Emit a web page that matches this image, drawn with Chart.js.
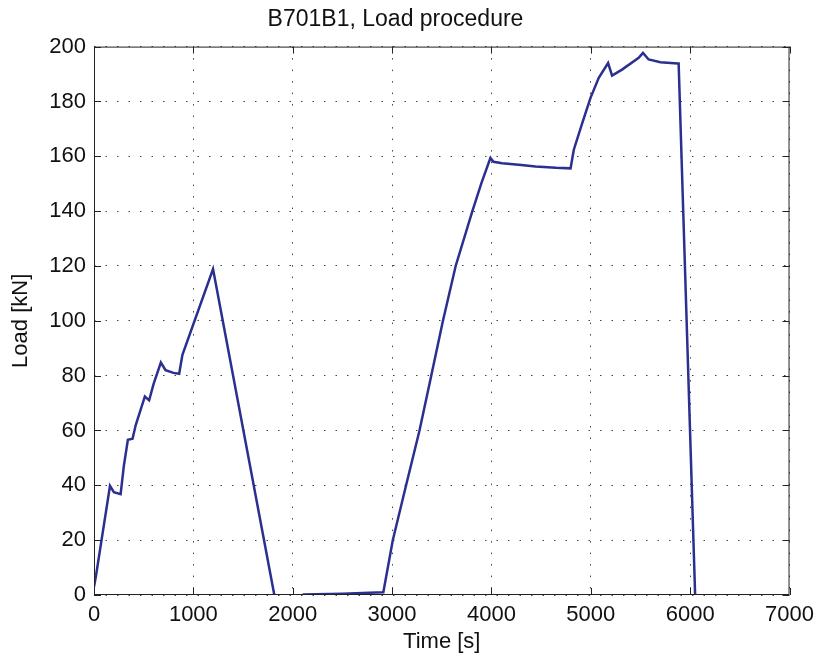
<!DOCTYPE html>
<html>
<head>
<meta charset="utf-8">
<script src="https://cdn.jsdelivr.net/npm/chart.js@4.4.1/dist/chart.umd.min.js"></script>
<style>
  html, body { margin: 0; padding: 0; background: #fff; }
  #wrap { width: 821px; height: 662px; }
</style>
</head>
<body>
<div id="wrap"><canvas id="loadChart" width="821" height="662"></canvas></div>
<script>
// ---- B701B1 load procedure ----
const TIME_S = [0, 20, 161, 200, 268, 300, 341, 388, 420, 512, 555, 600, 673, 720, 800, 857, 890, 1198, 1815,
  null,
  2100, 2500, 2771, 2912, 3007, 3141, 3276, 3394, 3512, 3640, 3808, 3899, 3990, 4020, 4109, 4300, 4443, 4650, 4796,
  4829, 4913, 4997, 5080, 5174, 5214, 5314, 5482, 5525, 5582, 5700, 5876, 5884, 6050];
const LOAD_KN = [3, 7, 39.8, 37.5, 36.8, 47, 56.6, 57, 62, 72.4, 71, 77, 84.8, 82, 81, 80.7, 87.6, 118.9, 0,
  null,
  0.2, 0.5, 0.8, 1, 20, 40, 60, 80, 100, 120, 140, 150.2, 159.4, 158, 157.5, 156.8, 156.3, 155.8, 155.6,
  162.4, 172, 181.3, 188.6, 194, 189.4, 191.6, 195.9, 197.7, 195.3, 194.3, 193.8, 193.8, 0];

const X_TICKS = [0, 1000, 2000, 3000, 4000, 5000, 6000, 7000];
const Y_TICKS = [0, 20, 40, 60, 80, 100, 120, 140, 160, 180, 200];

const LINE_BLUE = '#2b2f8f';
const FONT = 'Liberation Sans, Arial, Helvetica, sans-serif';

const points = TIME_S.map((t, i) => ({ x: t === null ? 1950 : t, y: LOAD_KN[i] }));

// MATLAB-style box with inward tick marks
const framePlugin = {
    id: 'frame',
    afterDatasetsDraw(chart) {
        const { ctx, chartArea: a, scales } = chart;
        ctx.save();
        ctx.strokeStyle = '#222';
        ctx.lineWidth = 1;
        ctx.strokeRect(a.left + 0.5, a.top + 0.5, a.right - a.left - 1, a.bottom - a.top - 1);
        const len = 7;
        ctx.beginPath();
        X_TICKS.forEach(v => {
            const px = Math.round(scales.x.getPixelForValue(v)) + 0.5;
            ctx.moveTo(px, a.bottom); ctx.lineTo(px, a.bottom - len);
            ctx.moveTo(px, a.top); ctx.lineTo(px, a.top + len);
        });
        Y_TICKS.forEach(v => {
            const py = Math.round(scales.y.getPixelForValue(v)) + 0.5;
            ctx.moveTo(a.left, py); ctx.lineTo(a.left + len, py);
            ctx.moveTo(a.right, py); ctx.lineTo(a.right - len, py);
        });
        ctx.stroke();
        ctx.restore();
    }
};

new Chart(document.getElementById('loadChart'), {
    type: 'scatter',
    data: {
        datasets: [{
            label: 'Load',
            data: points,
            showLine: true,
            spanGaps: false,
            borderColor: LINE_BLUE,
            borderWidth: 2.5,
            pointRadius: 0,
            tension: 0,
        }]
    },
    options: {
        responsive: false,
        animation: false,
        layout: { padding: { left: 0, right: 30, top: 0, bottom: 0 } },
        plugins: {
            legend: { display: false },
            tooltip: { enabled: false },
            title: {
                display: true,
                text: 'B701B1, Load procedure',
                color: '#111',
                font: { family: FONT, size: 23, weight: 'normal' },
                padding: { top: 6, bottom: 13 }
            }
        },
        scales: {
            x: {
                type: 'linear',
                min: 0, max: 7000,
                afterBuildTicks: (s) => { s.ticks = X_TICKS.map(v => ({ value: v })); },
                afterFit: (s) => { s.height = 67; },
                ticks: { color: '#111', font: { family: FONT, size: 22 }, padding: 7, maxRotation: 0, callback: (v) => String(v) },
                grid: { color: '#444', drawTicks: false, lineWidth: 1 },
                border: { display: false, dash: [1.5, 10] },
                title: { display: true, text: 'Time [s]', color: '#111', font: { family: FONT, size: 22 }, padding: { top: 0, bottom: 7 } }
            },
            y: {
                min: 0, max: 200,
                afterBuildTicks: (s) => { s.ticks = Y_TICKS.map(v => ({ value: v })); },
                afterFit: (s) => { s.width = 94; },
                ticks: { color: '#111', font: { family: FONT, size: 22 }, padding: 8, callback: (v) => String(v) },
                grid: { color: '#444', drawTicks: false, lineWidth: 1 },
                border: { display: false, dash: [1.5, 10] },
                title: { display: true, text: 'Load [kN]', color: '#111', font: { family: FONT, size: 22 }, padding: { top: 8, bottom: 0 } }
            }
        }
    },
    plugins: [framePlugin]
});
</script>
</body>
</html>
